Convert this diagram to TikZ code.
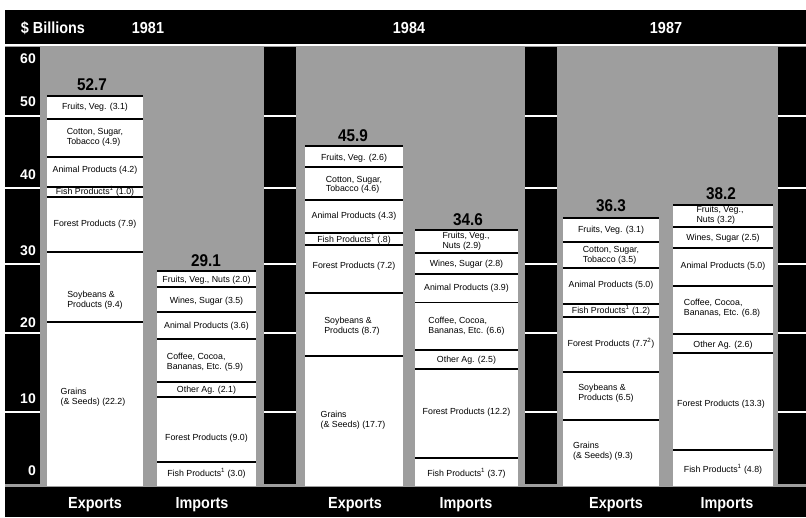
\documentclass[tikz,border=0pt]{standalone}
\usepackage{fontspec}
\setmainfont{Liberation Sans}
\newfontfamily\condsans[FakeStretch=0.9]{Liberation Sans}
\definecolor{screen}{gray}{0.62}
\begin{document}
\begin{tikzpicture}[x=1pt,y=-1pt,
  lab/.style={font=\fontsize{8.8}{9.6}\selectfont, align=left, inner sep=0pt},
  tot/.style={font=\condsans\fontsize{17}{17}\selectfont\bfseries, inner sep=0pt},
  hdr/.style={font=\condsans\fontsize{16}{17}\selectfont\bfseries, text=white, inner sep=0pt, anchor=base},
  axl/.style={font=\fontsize{14}{14}\selectfont\bfseries, text=white, inner sep=0pt, anchor=base east},
  sepline/.style={line width=1.7pt},
  gridw/.style={white, line width=2pt},
  barbg/.style={fill=white}]
\useasboundingbox (0,0) rectangle (806,517);
\fill[white] (0,0) rectangle (806,517);
% screened background
\fill[screen] (5,45.5) rectangle (806,487);
% header and footer bands
\fill[black] (5,10) rectangle (806,43.5);
\fill[black] (5,487) rectangle (806,517);
% black columns with white grid gaps
\foreach \a/\b in {5/40, 264/296, 525/557, 778/806}
  \fill[black] (\a,47) rectangle (\b,484);
\foreach \g in {116,188,264,333,412}
  \foreach \a/\b in {5/40, 264/296, 525/557, 778/806}
    \draw[gridw] (\a,\g) -- (\b,\g);
% axis labels
\node[axl] (a60) at (36,63) {60};
\node[axl] (a50) at (36,106) {50};
\node[axl] (a40) at (36,179) {40};
\node[axl] (a30) at (36,255) {30};
\node[axl] (a20) at (36,327) {20};
\node[axl] (a10) at (36,403) {10};
\node[axl] (a0)  at (36,475) {0};
% header
\node[hdr] (hb) at (53,33) {\$ Billions};
\node[hdr] (h81) at (148,33) {1981};
\node[hdr] (h84) at (409,33) {1984};
\node[hdr] (h87) at (666,33) {1987};
% footer
\node[hdr] (fe81) at (95,508) {Exports};
\node[hdr] (fi81) at (202,508) {Imports};
\node[hdr] (fe84) at (355,508) {Exports};
\node[hdr] (fi84) at (466,508) {Imports};
\node[hdr] (fe87) at (616,508) {Exports};
\node[hdr] (fi87) at (727,508) {Imports};

% ---------- 1981 Exports ----------
\fill[barbg] (47,95.7) rectangle (143,486);
\foreach \y in {95.7,119.3,156.7,186.7,196.7,252.3,322.3}
  \draw[sepline] (47,\y) -- (143,\y);
\node[tot] (e81t) at (92,85) {52.7};
\node[lab] (e81fr) at (95,107) {Fruits, Veg. (3.1)};
\node[lab] (e81co) at (95,137.5) {Cotton, Sugar,\\Tobacco (4.9)};
\node[lab] (e81an) at (95,170.5) {Animal Products (4.2)};
\node[lab] (e81fi) at (95,191.5) {Fish Products\textsuperscript{1} (1.0)};
\node[lab] (e81fo) at (95,224) {Forest Products (7.9)};
\node[lab] (e81so) at (95,300) {Soybeans \&\\Products (9.4)};
\node[lab] (e81gr) at (93,397.5) {Grains\\(\& Seeds) (22.2)};

% ---------- 1981 Imports ----------
\fill[barbg] (157,271) rectangle (256,486);
\foreach \y in {271,287.3,312.3,339.3,381.7,396.7,461.7}
  \draw[sepline] (157,\y) -- (256,\y);
\node[tot] (i81t) at (206,261) {29.1};
\node[lab] (i81fr) at (206.5,280) {Fruits, Veg., Nuts (2.0)};
\node[lab] (i81wi) at (206.5,301) {Wines, Sugar (3.5)};
\node[lab] (i81an) at (206.5,326.5) {Animal Products (3.6)};
\node[lab] (i81co) at (205,362) {Coffee, Cocoa,\\Bananas, Etc. (5.9)};
\node[lab] (i81ot) at (206.5,390.5) {Other Ag. (2.1)};
\node[lab] (i81fo) at (206.5,438) {Forest Products (9.0)};
\node[lab] (i81fi) at (206.5,473.5) {Fish Products\textsuperscript{1} (3.0)};

% ---------- 1984 Exports ----------
\fill[barbg] (305,146) rectangle (403,486);
\foreach \y in {146,167.3,200,232.7,245,293.3,356}
  \draw[sepline] (305,\y) -- (403,\y);
\node[tot] (e84t) at (353,136) {45.9};
\node[lab] (e84fr) at (354,158) {Fruits, Veg. (2.6)};
\node[lab] (e84co) at (354,185) {Cotton, Sugar,\\Tobacco (4.6)};
\node[lab] (e84an) at (354,216.5) {Animal Products (4.3)};
\node[lab] (e84fi) at (354,239) {Fish Products\textsuperscript{1} (.8)};
\node[lab] (e84fo) at (354,266.5) {Forest Products (7.2)};
\node[lab] (e84so) at (352,326) {Soybeans \&\\Products (8.7)};
\node[lab] (e84gr) at (353,420) {Grains\\(\& Seeds) (17.7)};

% ---------- 1984 Imports ----------
\fill[barbg] (415,230) rectangle (518,486);
\foreach \y in {230,252.7,274,302.5,350,369.3,458.3}
  \draw[sepline] (415,\y) -- (518,\y);
\node[tot] (i84t) at (468,219.5) {34.6};
\node[lab] (i84fr) at (466,241.5) {Fruits, Veg.,\\Nuts (2.9)};
\node[lab] (i84wi) at (466.5,264) {Wines, Sugar (2.8)};
\node[lab] (i84an) at (466.5,288.5) {Animal Products (3.9)};
\node[lab] (i84co) at (466.5,326.5) {Coffee, Cocoa,\\Bananas, Etc. (6.6)};
\node[lab] (i84ot) at (466.5,360) {Other Ag. (2.5)};
\node[lab] (i84fo) at (466.5,412) {Forest Products (12.2)};
\node[lab] (i84fi) at (466.5,473.5) {Fish Products\textsuperscript{1} (3.7)};

% ---------- 1987 Exports ----------
\fill[barbg] (563,218.3) rectangle (659,486);
\foreach \y in {218.3,242.3,267.7,304,316.7,371.7,420}
  \draw[sepline] (563,\y) -- (659,\y);
\node[tot] (e87t) at (611,206) {36.3};
\node[lab] (e87fr) at (611,230) {Fruits, Veg. (3.1)};
\node[lab] (e87co) at (611,255.5) {Cotton, Sugar,\\Tobacco (3.5)};
\node[lab] (e87an) at (611,285.5) {Animal Products (5.0)};
\node[lab] (e87fi) at (611,310.5) {Fish Products\textsuperscript{1} (1.2)};
\node[lab] (e87fo) at (611,343.5) {Forest Products (7.7\textsuperscript{2})};
\node[lab] (e87so) at (606,393) {Soybeans \&\\Products (6.5)};
\node[lab] (e87gr) at (603,451.5) {Grains\\(\& Seeds) (9.3)};

% ---------- 1987 Imports ----------
\fill[barbg] (673,205) rectangle (773,486);
\foreach \y in {205,226.7,248.3,285.7,334,353.3,450}
  \draw[sepline] (673,\y) -- (773,\y);
\node[tot] (i87t) at (721,194) {38.2};
\node[lab] (i87fr) at (720,215) {Fruits, Veg.,\\Nuts (3.2)};
\node[lab] (i87wi) at (723,238.5) {Wines, Sugar (2.5)};
\node[lab] (i87an) at (723,266.5) {Animal Products (5.0)};
\node[lab] (i87co) at (722,308.5) {Coffee, Cocoa,\\Bananas, Etc. (6.8)};
\node[lab] (i87ot) at (723,345) {Other Ag. (2.6)};
\node[lab] (i87fo) at (721,404) {Forest Products (13.3)};
\node[lab] (i87fi) at (723,469) {Fish Products\textsuperscript{1} (4.8)};
\end{tikzpicture}
\end{document}
